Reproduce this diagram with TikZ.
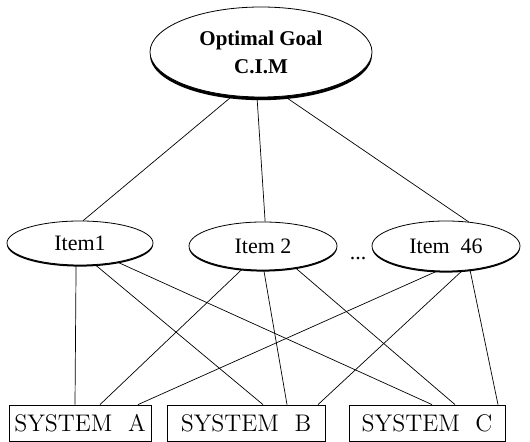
\documentclass[tikz,border=0pt]{standalone}
\usepackage{fontspec}
\newfontfamily\tms{Liberation Serif}
\usepackage{tikz}
\usetikzlibrary{shapes.geometric,shadows}

\begin{document}
\begin{tikzpicture}[x=0.5pt,y=-0.5pt,
  every node/.style={inner sep=0pt,align=center,},%
  sh/.style={drop shadow={shadow xshift=0pt,shadow yshift=-#1,opacity=1,fill=black}},%
  el/.style={ellipse,draw,fill=white,line width=.4pt,font=\tms\fontsize{11}{13}\selectfont},%
  bx/.style={rectangle,draw,line width=.4pt,minimum height=18pt,font=\fontsize{12}{14}\selectfont},%
  ln/.style={line width=.35pt},%
  ]
  \useasboundingbox (0,0) rectangle (530,442);
  \node (goal) at (261,52) [el,sh=1.6pt,minimum width=111pt,minimum height=45pt,
    font=\tms\bfseries\fontsize{10.5}{14}\selectfont] {Optimal Goal\\C.I.M};
  \node (item1)  at (80,243)  [el,sh=.8pt,minimum width=73pt,minimum height=22pt] {Item1};
  \node (item2)  at (263,246) [el,sh=.8pt,minimum width=74pt,minimum height=24pt] {Item 2};
  \node (item46) at (446,246) [el,sh=.8pt,minimum width=74pt,minimum height=25pt] {Item~ 46};
  \node (dots)   at (358,259) [font=\tms\fontsize{11}{13}\selectfont] {...};

  \node (sysA) at (80,423)  [bx,minimum width=71pt] {SYSTEM~ A};
  \node (sysB) at (246,423) [bx,minimum width=79pt] {SYSTEM~ B};
  \node (sysC) at (427,423) [bx,minimum width=78pt] {SYSTEM~ C};

  % goal to items
  \draw [ln] (goal.237) -- (item1.82);
  \draw [ln] (goal.265) -- (item2.85);
  \draw [ln] (goal.298) -- (item46.47);
  % items to systems
  \draw [ln] (item1.260) -- ([xshift=-2.5pt]sysA.north);
  \draw [ln] (item1.305) -- ([xshift=8.5pt]sysB.north);
  \draw [ln] (item1.333) -- ([xshift=2.5pt]sysC.north);
  \draw [ln] (item2.228) -- ([xshift=10pt]sysA.north);
  \draw [ln] (item2.272) -- ([xshift=20.5pt]sysB.north);
  \draw [ln] (item2.326) -- ([xshift=14pt]sysC.north);
  \draw [ln] (item46.250) -- ([xshift=29pt]sysA.north);
  \draw [ln] (item46.303) -- ([xshift=36pt]sysB.north);
  \draw [ln] (item46.315) -- ([xshift=35.5pt]sysC.north);
\end{tikzpicture}
\end{document}
